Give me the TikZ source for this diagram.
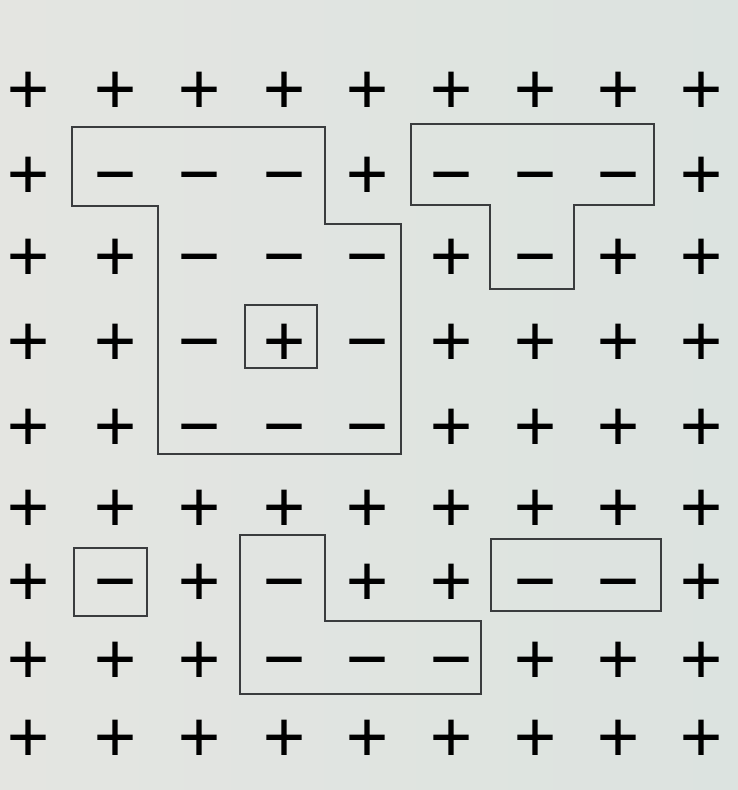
\documentclass[tikz,border=0pt]{standalone}
\usepackage{fontspec}
\usepackage{tikz}
\newfontfamily\signfont[BoldFont={Liberation Serif}, BoldFeatures={FakeBold=2.4}]{Liberation Serif}
\definecolor{paperleft}{HTML}{E4E5E1}
\definecolor{paperright}{HTML}{DCE3E0}
\definecolor{penline}{HTML}{3A3C3E}

\begin{document}
\begin{tikzpicture}[
    x=1pt, y=-1pt,
    sign/.style={inner sep=0pt, font=\signfont\bfseries\fontsize{72}{72}\selectfont, text height=36.4pt, text depth=0pt, yshift=-5pt},
    outline/.style={draw=penline, line width=1.2pt, line join=miter}
]
    % paper
    \shade[left color=paperleft, right color=paperright] (0,0) rectangle (738,790);
    \useasboundingbox (0,0) rectangle (738,790);

    % grid of signs
    \foreach \y/\row [count=\r] in {
        90/{+,+,+,+,+,+,+,+,+},
        175/{+,−,−,−,+,−,−,−,+},
        257/{+,+,−,−,−,+,−,+,+},
        342/{+,+,−,+,−,+,+,+,+},
        427/{+,+,−,−,−,+,+,+,+},
        508/{+,+,+,+,+,+,+,+,+},
        582/{+,−,+,−,+,+,−,−,+},
        660/{+,+,+,−,−,−,+,+,+},
        738/{+,+,+,+,+,+,+,+,+}} {
        \foreach \s [count=\c] in \row {
            \pgfmathsetmacro\xc{{28,115,199,284,367,451,535,618,701}[\c-1]}
            \node[sign] (s-\r-\c) at (\xc,\y) {\s};
        }
    }

    % regions
    \draw[outline] (72,127) -- (325,127) -- (325,224) -- (401,224) -- (401,454) -- (158,454) -- (158,206) -- (72,206) -- cycle;
    \draw[outline] (245,305) rectangle (317,368);
    \draw[outline] (411,124) -- (654,124) -- (654,205) -- (574,205) -- (574,289) -- (490,289) -- (490,205) -- (411,205) -- cycle;
    \draw[outline] (74,548) rectangle (147,616);
    \draw[outline] (240,535) -- (325,535) -- (325,621) -- (481,621) -- (481,694) -- (240,694) -- cycle;
    \draw[outline] (491,539) rectangle (661,611);
\end{tikzpicture}
\end{document}
